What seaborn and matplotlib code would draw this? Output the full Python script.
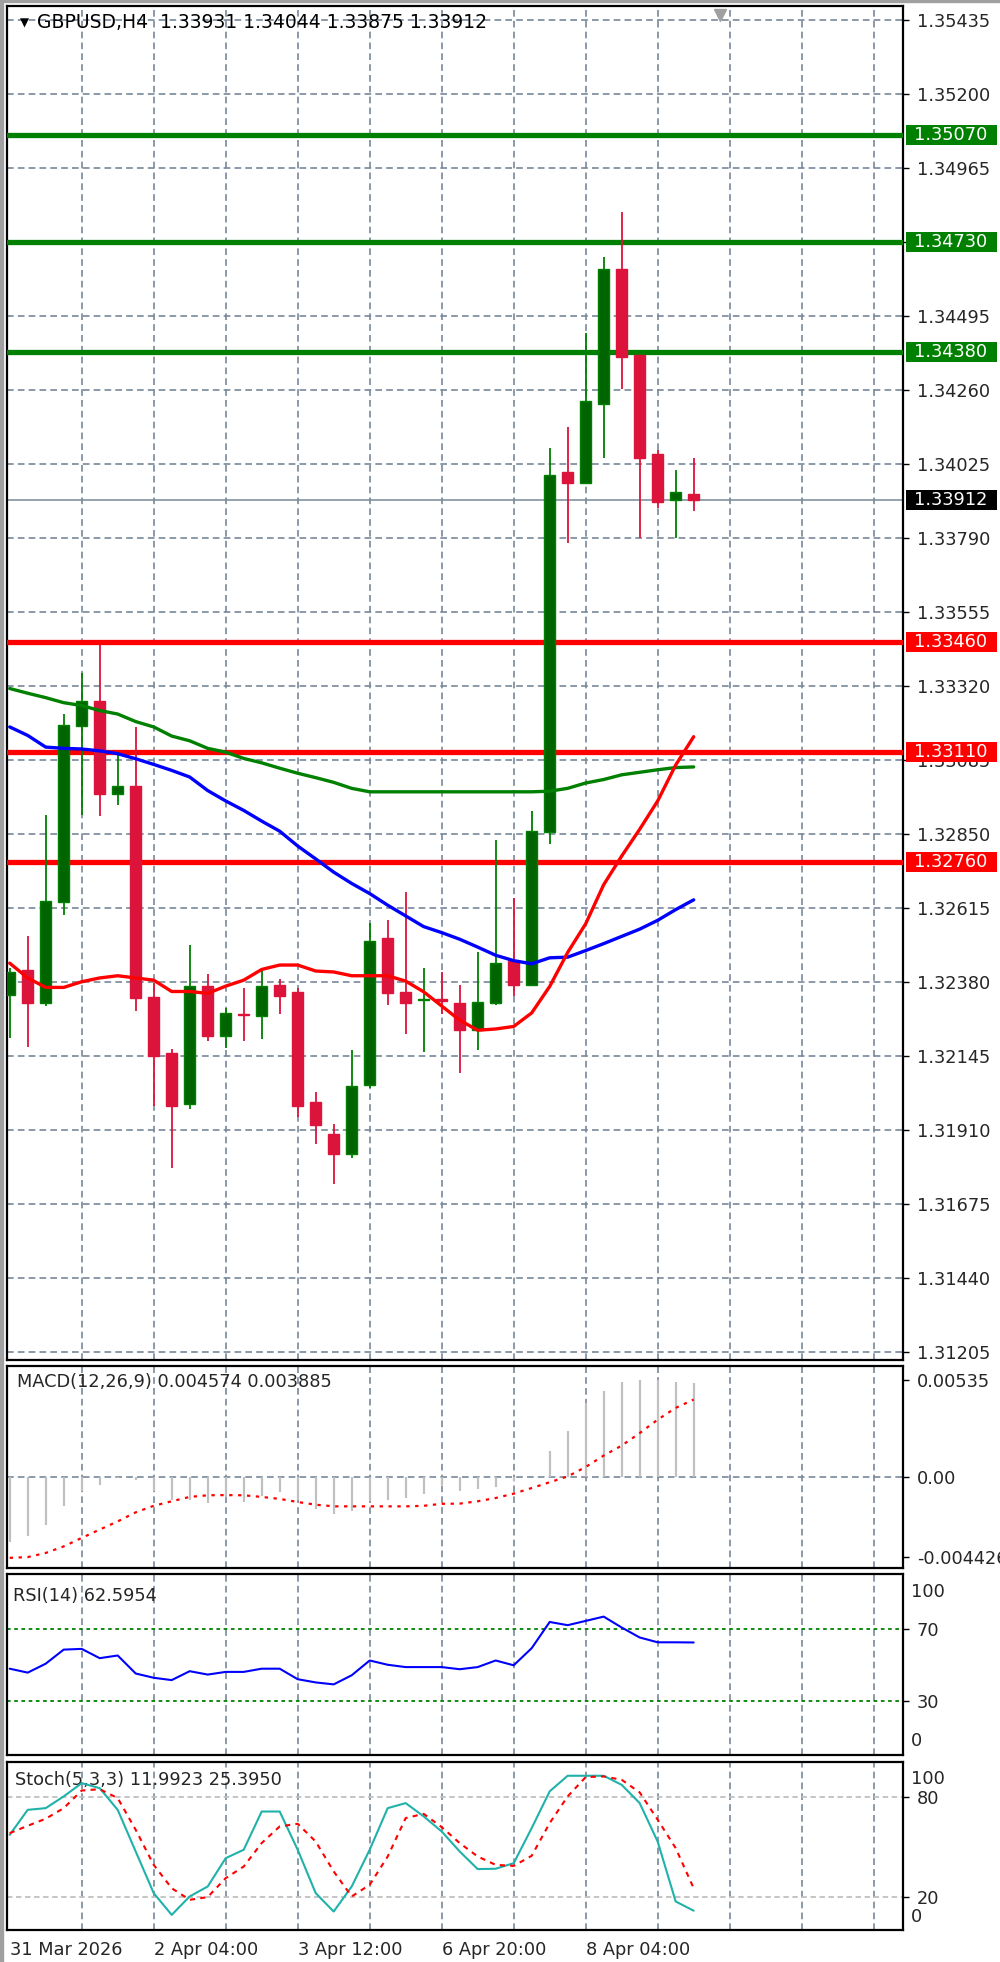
import matplotlib
matplotlib.use('Agg')
import matplotlib.pyplot as plt
import matplotlib.transforms as mtransforms
from matplotlib.patches import Rectangle
import seaborn as sns

sns.set_style('white')
plt.rcParams['font.family'] = ['DejaVu Sans']

W, H = 1000, 1962

# ---- candles (GBPUSD H4) ----
opens = [1.32338, 1.32417, 1.32315, 1.32635, 1.33193, 1.33272, 1.32978, 1.33003, 1.32332, 1.32155,
         1.31993, 1.32366, 1.32208, 1.32278, 1.32272, 1.32370, 1.32349, 1.31998, 1.31899, 1.31835,
         1.32053, 1.32519, 1.32349, 1.32322, 1.32325, 1.32313, 1.32227, 1.32313, 1.32446, 1.32372,
         1.32857, 1.33999, 1.33966, 1.34215, 1.34645, 1.34370, 1.34056, 1.33911, 1.33931]
highs = [1.32425, 1.32525, 1.32910, 1.33231, 1.33361, 1.33450, 1.33103, 1.33190, 1.32378, 1.32168,
         1.32497, 1.32404, 1.32299, 1.32361, 1.32417, 1.32389, 1.32361, 1.32032, 1.31928, 1.32163,
         1.32567, 1.32576, 1.32667, 1.32426, 1.32412, 1.32370, 1.32474, 1.32831, 1.32646, 1.32924,
         1.34075, 1.34141, 1.34441, 1.34682, 1.34824, 1.34370, 1.34070, 1.34006, 1.34044]
lows = [1.32202, 1.32174, 1.32304, 1.32593, 1.32910, 1.32907, 1.32941, 1.32287, 1.31987, 1.31790,
        1.31978, 1.32193, 1.32170, 1.32193, 1.32200, 1.32279, 1.31953, 1.31865, 1.31738, 1.31820,
        1.32044, 1.32306, 1.32214, 1.32157, 1.32279, 1.32091, 1.32163, 1.32306, 1.32336, 1.32370,
        1.32819, 1.33774, 1.33966, 1.34043, 1.34262, 1.33790, 1.33885, 1.33790, 1.33875]
closes = [1.32412, 1.32315, 1.32638, 1.33195, 1.33272, 1.32976, 1.33003, 1.32329, 1.32146, 1.31987,
          1.32366, 1.32208, 1.32282, 1.32274, 1.32366, 1.32336, 1.31987, 1.31925, 1.31834, 1.32049,
          1.32510, 1.32344, 1.32315, 1.32325, 1.32320, 1.32227, 1.32318, 1.32440, 1.32370, 1.32859,
          1.33991, 1.33966, 1.34226, 1.34645, 1.34365, 1.34045, 1.33903, 1.33935, 1.33912]

# ---- moving averages ----
ma_red = [1.32440, 1.32393, 1.32363, 1.32363, 1.32381, 1.32393, 1.32400, 1.32393, 1.32386, 1.32350,
          1.32350, 1.32344, 1.32367, 1.32386, 1.32420, 1.32434, 1.32434, 1.32415, 1.32412, 1.32400,
          1.32400, 1.32400, 1.32383, 1.32349, 1.32304, 1.32259, 1.32227, 1.32231, 1.32239, 1.32282,
          1.32366, 1.32474, 1.32565, 1.32689, 1.32780, 1.32865, 1.32955, 1.33069, 1.33159]
ma_blue = [1.33190, 1.33163, 1.33126, 1.33122, 1.33120, 1.33114, 1.33105, 1.33089, 1.33071, 1.33052,
           1.33031, 1.32988, 1.32955, 1.32925, 1.32891, 1.32859, 1.32812, 1.32771, 1.32729, 1.32693,
           1.32661, 1.32624, 1.32590, 1.32556, 1.32537, 1.32516, 1.32491, 1.32465, 1.32448, 1.32438,
           1.32457, 1.32459, 1.32480, 1.32502, 1.32525, 1.32548, 1.32576, 1.32610, 1.32641]
ma_green = [1.33312, 1.33297, 1.33283, 1.33267, 1.33258, 1.33242, 1.33231, 1.33207, 1.33190, 1.33161,
            1.33146, 1.33122, 1.33110, 1.33090, 1.33076, 1.33059, 1.33043, 1.33029, 1.33014, 1.32995,
            1.32984, 1.32984, 1.32984, 1.32984, 1.32984, 1.32984, 1.32984, 1.32984, 1.32984, 1.32984,
            1.32986, 1.32995, 1.33012, 1.33023, 1.33038, 1.33046, 1.33054, 1.33061, 1.33063]

# ---- MACD(12,26,9) ----
macd_main = [-0.00360, -0.00327, -0.00263, -0.00162, -0.00079, -0.00042, -0.00006, -0.00018, -0.00079, -0.00125,
             -0.00129, -0.00144, -0.00106, -0.00139, -0.00106, -0.00085, -0.00125, -0.00177, -0.00203, -0.00189,
             -0.00134, -0.00125, -0.00116, -0.00092, -0.00042, -0.00076, -0.00066, -0.00057, -0.00024, 0.00002,
             0.00142, 0.00256, 0.00408, 0.00476, 0.00522, 0.00535, 0.00535, 0.00522, 0.00519]
macd_signal = [-0.00446, -0.00442, -0.00419, -0.00383, -0.00336, -0.00290, -0.00245, -0.00195, -0.00159, -0.00134,
               -0.00110, -0.00101, -0.00100, -0.00101, -0.00110, -0.00121, -0.00138, -0.00153, -0.00162, -0.00162,
               -0.00162, -0.00162, -0.00162, -0.00159, -0.00148, -0.00147, -0.00134, -0.00116, -0.00092, -0.00061,
               -0.00029, 0.00003, 0.00055, 0.00118, 0.00173, 0.00242, 0.00316, 0.00381, 0.00427]

# ---- RSI(14) ----
rsi = [47.9, 45.7, 50.7, 58.6, 59.0, 53.8, 55.3, 45.2, 42.8, 41.5,
       46.5, 44.6, 46.1, 46.1, 47.9, 47.9, 42.0, 40.2, 39.1, 44.2,
       52.5, 50.1, 48.8, 48.8, 48.8, 47.6, 48.8, 52.5, 49.8, 59.4,
       74.1, 72.3, 74.7, 77.1, 71.0, 65.4, 62.7, 62.7, 62.6]

# ---- Stochastic(5,3,3) ----
stoch_k = [57.2, 72.1, 73.1, 80.1, 88.0, 85.0, 72.1, 47.3, 22.5, 9.5,
           20.5, 26.4, 43.3, 48.3, 71.1, 71.1, 48.3, 22.5, 11.5, 26.4,
           48.3, 73.1, 76.1, 68.2, 59.2, 47.3, 36.8, 37.0, 40.3, 61.2,
           83.1, 92.4, 92.4, 92.4, 87.0, 76.1, 53.2, 17.5, 12.0]
stoch_d = [58.2, 62.6, 66.8, 73.1, 83.6, 84.4, 79.1, 60.2, 39.3, 25.4,
           18.5, 20.1, 31.4, 38.3, 52.3, 62.2, 63.8, 53.2, 35.4, 20.5,
           27.4, 44.3, 67.2, 69.7, 61.8, 52.3, 44.3, 39.3, 38.7, 44.7,
           64.2, 80.1, 91.6, 92.0, 90.0, 82.5, 66.2, 49.3, 25.4]

# ---- levels, ticks and labels ----
resistance = [1.35070, 1.34730, 1.34380]
support = [1.33460, 1.33110, 1.32760]
last_price = 1.33912
price_ticks = [1.31205, 1.31440, 1.31675, 1.31910, 1.32145, 1.32380, 1.32615, 1.32850,
               1.33085, 1.33320, 1.33555, 1.33790, 1.34025, 1.34260, 1.34495, 1.34730,
               1.34965, 1.35200, 1.35435]
date_pos = [0, 8, 16, 24, 32]
date_labels = ['31 Mar 2026', '2 Apr 04:00', '3 Apr 12:00', '6 Apr 20:00', '8 Apr 04:00']
header = 'GBPUSD,H4  1.33931 1.34044 1.33875 1.33912'
macd_title = 'MACD(12,26,9) 0.004574 0.003885'
rsi_title = 'RSI(14) 62.5954'
stoch_title = 'Stoch(5,3,3) 11.9923 25.3950'

idx = list(range(len(opens)))
GRID = '#778899'
FS = 12.8
XLIM = (-0.15, 49.63)


def px_axes(fig, x0, y0, x1, y1):
    return fig.add_axes([x0 / W, 1 - y1 / H, (x1 - x0) / W, (y1 - y0) / H])


def style_panel(a):
    a.set_xlim(*XLIM)
    a.set_xticks(range(4, 49, 4))
    a.tick_params(axis='x', which='major', length=0, labelbottom=False)
    a.grid(axis='x', color=GRID, lw=1.2, ls=(0, (4, 2.5)))
    a.yaxis.tick_right()
    a.tick_params(axis='y', length=4, width=1, color='black', pad=6, labelsize=FS)
    for s in a.spines.values():
        s.set_color('black')
        s.set_linewidth(1.6)
    a.set_facecolor('white')


fig = plt.figure(figsize=(W / 100, H / 100), dpi=100)
fig.patch.set_facecolor('white')

ax = px_axes(fig, 7, 6, 903, 1360)
ax2 = px_axes(fig, 7, 1366, 903, 1568)
ax3 = px_axes(fig, 7, 1574, 903, 1755)
ax4 = px_axes(fig, 7, 1762, 903, 1930)

# ---------------- main chart ----------------
style_panel(ax)
ax.set_ylim(1.31180, 1.35479)
ax.set_yticks(price_ticks)
ax.set_yticklabels([f'{p:.5f}' for p in price_ticks])
ax.grid(axis='y', color=GRID, lw=1.2, ls=(0, (4, 2.5)))

for lvl in resistance:
    ax.axhline(lvl, color='#008000', lw=3.8, zorder=3)
for lvl in support:
    ax.axhline(lvl, color='#FF0000', lw=3.8, zorder=3)
ax.axhline(last_price, color=GRID, lw=1.1, zorder=2)

for i in idx:
    o, h, l, c = opens[i], highs[i], lows[i], closes[i]
    bull = c >= o
    wick = '#008000' if bull else '#DC143C'
    face = '#006400' if bull else '#DC143C'
    ax.vlines(i, l, h, color=wick, lw=1.3, zorder=4)
    ax.bar(i, max(abs(c - o), 0.000005), bottom=min(o, c), width=0.62,
           color=face, edgecolor=wick, lw=1.0, zorder=5)

sns.lineplot(x=idx, y=ma_green, color='#008000', lw=2.4, ax=ax, zorder=6)
sns.lineplot(x=idx, y=ma_blue, color='#0000FF', lw=2.4, ax=ax, zorder=6)
sns.lineplot(x=idx, y=ma_red, color='#FF0000', lw=2.4, ax=ax, zorder=6)

# price tags on the right scale (they cover the tick label under them, as in MT4)
ppx = (1.35479 - 1.31180) / 1354.0
blend = mtransforms.blended_transform_factory(ax.transAxes, ax.transData)
tags = [(v, '#008000') for v in resistance] + [(v, '#FF0000') for v in support] + [(last_price, '#000000')]
for v, col in tags:
    ax.add_patch(Rectangle((1.0035, v - 10 * ppx), 0.1016, 20 * ppx, transform=blend,
                           facecolor=col, edgecolor='none', clip_on=False, zorder=20))
    ax.text(1.0123, v, f'{v:.5f}', transform=blend, color='white', fontsize=FS,
            va='center', ha='left', clip_on=False, zorder=21)

ax.set_xlabel('')
ax.set_ylabel('')
ax.plot([0.796], [0.993], marker='v', color='#a0a0a0', ms=9, transform=ax.transAxes,
        clip_on=False, zorder=10)
fig.text(20 / W, 1 - 23 / H, '\u25BC', fontsize=8.5, va='center', ha='left', color='black')
fig.text(37 / W, 1 - 23 / H, header, fontsize=13.5, va='center', ha='left', color='black')

# ---------------- MACD ----------------
style_panel(ax2)
ax2.set_ylim(-0.00502, 0.00612)
ax2.vlines(idx, 0, macd_main, color='#C0C0C0', lw=1.6, zorder=3)
ax2.axhline(0, color=GRID, lw=1.2, ls=(0, (4, 2.5)), zorder=2)
sns.lineplot(x=idx, y=macd_signal, color='#FF0000', lw=1.6, ls=(0, (1.5, 2.5)), ax=ax2, zorder=4)
ax2.set_yticks([0.00535, 0.0, -0.004426])
ax2.set_yticklabels(['0.00535', '0.00', '-0.004426'])
ax2.text(0.011, 0.92, macd_title, transform=ax2.transAxes, fontsize=FS, va='center', ha='left')

# ---------------- RSI ----------------
style_panel(ax3)
ax3.set_ylim(-0.5, 101)
ax3.axhline(70, color='#008000', lw=1.3, ls=(0, (2, 2)))
ax3.axhline(30, color='#008000', lw=1.3, ls=(0, (2, 2)))
sns.lineplot(x=idx, y=rsi, color='#0000FF', lw=1.5, ax=ax3, zorder=4)
ax3.set_yticks([70, 30])
ax3.set_yticklabels(['70', '30'])
ax3.text(1.009, 0.90, '100', transform=ax3.transAxes, fontsize=FS, va='center', ha='left', clip_on=False)
ax3.text(1.009, 0.077, '0', transform=ax3.transAxes, fontsize=FS, va='center', ha='left', clip_on=False)
ax3.text(0.007, 0.88, rsi_title, transform=ax3.transAxes, fontsize=FS, va='center', ha='left')

# ---------------- Stochastic ----------------
style_panel(ax4)
ax4.set_ylim(0.5, 100.6)
ax4.axhline(80, color='#C0C0C0', lw=1.3, ls=(0, (3, 2)))
ax4.axhline(20, color='#C0C0C0', lw=1.3, ls=(0, (3, 2)))
sns.lineplot(x=idx, y=stoch_k, color='#20B2AA', lw=1.5, ax=ax4, zorder=4)
sns.lineplot(x=idx, y=stoch_d, color='#FF0000', lw=1.5, ls=(0, (2.5, 2.5)), ax=ax4, zorder=4)
ax4.set_yticks([80, 20])
ax4.set_yticklabels(['80', '20'])
ax4.text(1.009, 0.90, '100', transform=ax4.transAxes, fontsize=FS, va='center', ha='left', clip_on=False)
ax4.text(1.009, 0.08, '0', transform=ax4.transAxes, fontsize=FS, va='center', ha='left', clip_on=False)
ax4.text(0.009, 0.89, stoch_title, transform=ax4.transAxes, fontsize=FS, va='center', ha='left')
ax4.xaxis.remove_overlapping_locs = False
ax4.set_xticks(date_pos, minor=True)
ax4.set_xticklabels(date_labels, minor=True, ha='left', fontsize=FS)
ax4.tick_params(axis='x', which='minor', length=5, width=1, color='black', pad=3,
                labelbottom=True)

for a in (ax2, ax3, ax4):
    a.set_xlabel('')
    a.set_ylabel('')

# window frame
fig.add_artist(Rectangle((0, 0), 3 / W, 1, transform=fig.transFigure, color='#a0a0a0', zorder=0))
fig.add_artist(Rectangle((0, 1 - 2 / H), 1, 2 / H, transform=fig.transFigure, color='#a0a0a0', zorder=0))

fig.savefig('out.png', dpi=100, facecolor='white')
